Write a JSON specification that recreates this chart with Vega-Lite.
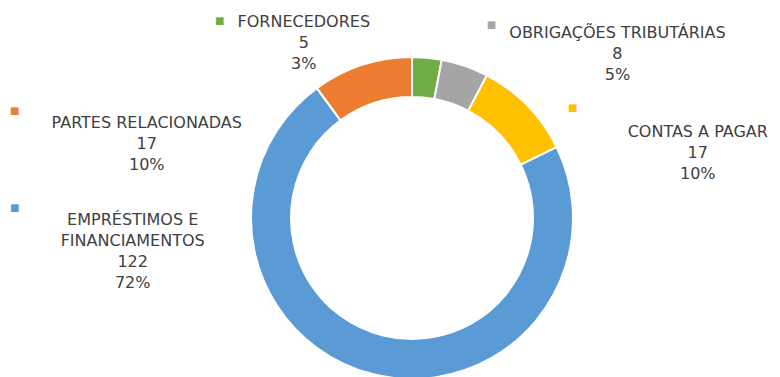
{
  "$schema": "https://vega.github.io/schema/vega-lite/v6.json",
  "width": 736,
  "height": 318,
  "autosize": {"type": "none"},
  "padding": {"left": 44, "top": 59, "right": 0, "bottom": 0},
  "background": "white",
  "config": {"view": {"stroke": null}, "text": {"font": "DejaVu Sans"}},
  "data": {
    "values": [
      {"categoria": "FORNECEDORES", "valor": 5, "ordem": 1},
      {"categoria": "OBRIGAÇÕES TRIBUTÁRIAS", "valor": 8, "ordem": 2},
      {"categoria": "CONTAS A PAGAR", "valor": 17, "ordem": 3},
      {"categoria": "EMPRÉSTIMOS E FINANCIAMENTOS", "valor": 122, "ordem": 4},
      {"categoria": "PARTES RELACIONADAS", "valor": 17, "ordem": 5}
    ]
  },
  "transform": [
    {"joinaggregate": [{"op": "sum", "field": "valor", "as": "total"}]},
    {"calculate": "replace(datum.categoria, 'MOS E F', 'MOS E\\nF') + '\\n' + datum.valor + '\\n' + format(datum.valor / datum.total, '.0%')", "as": "rotulo"}
  ],
  "encoding": {
    "theta": {"field": "valor", "type": "quantitative", "stack": true},
    "order": {"field": "ordem", "type": "quantitative"},
    "color": {
      "field": "categoria",
      "type": "nominal",
      "scale": {
        "domain": ["FORNECEDORES", "OBRIGAÇÕES TRIBUTÁRIAS", "CONTAS A PAGAR", "EMPRÉSTIMOS E FINANCIAMENTOS", "PARTES RELACIONADAS"],
        "range": ["#70AD47", "#A5A5A5", "#FFC000", "#5B9BD5", "#ED7D31"]
      },
      "legend": null
    }
  },
  "layer": [
    {
      "mark": {"type": "arc", "outerRadius": 161, "innerRadius": 121, "stroke": "white", "strokeWidth": 2}
    },
    {
      "mark": {
        "type": "text",
        "text": "■",
        "radius": 181,
        "fontSize": 10,
        "align": "center",
        "baseline": "middle",
        "dx": {"expr": "[-209, 20, 31, -354, -341][datum.ordem - 1]"},
        "dy": {"expr": "[-17, -22, 16, -186, 65][datum.ordem - 1]"}
      }
    },
    {
      "mark": {
        "type": "text",
        "radius": 181,
        "align": "center",
        "baseline": "middle",
        "lineBreak": "\n",
        "lineHeight": 21,
        "fontSize": 16,
        "dx": {"expr": "[-125, 146, 156, -236, -209][datum.ordem - 1]"},
        "dy": {"expr": "[-16, -14, 40, -174, 77][datum.ordem - 1]"}
      },
      "encoding": {
        "text": {"field": "rotulo"},
        "color": {"value": "#404040"}
      }
    }
  ]
}
